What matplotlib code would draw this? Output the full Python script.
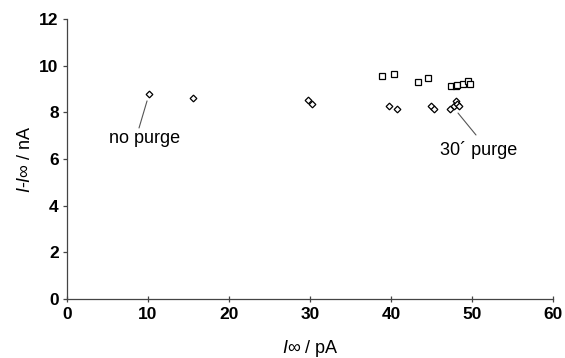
import matplotlib
matplotlib.use("Agg")
import matplotlib.pyplot as plt

plt.rcParams['font.family'] = ['Liberation Sans', 'DejaVu Sans']
plt.rcParams['mathtext.fontset'] = 'custom'
plt.rcParams['mathtext.rm'] = 'Liberation Sans'
plt.rcParams['mathtext.it'] = 'Liberation Sans:italic'

# Diamonds (purge series)
dia_x = [10.1, 15.5, 29.7, 30.2, 39.7, 40.8, 44.9, 45.3, 47.3, 47.8, 48.0, 48.1, 48.4]
dia_y = [8.80, 8.60, 8.52, 8.35, 8.29, 8.15, 8.27, 8.15, 8.14, 8.27, 8.48, 8.36, 8.27]
# Squares
sq_x = [38.9, 40.4, 43.3, 44.6, 47.4, 48.0, 48.2, 48.9, 49.5, 49.75]
sq_y = [9.57, 9.64, 9.31, 9.49, 9.13, 9.13, 9.17, 9.21, 9.36, 9.20]

xticks = [0, 10, 20, 30, 40, 50, 60]
yticks = [0, 2, 4, 6, 8, 10, 12]

fig = plt.figure(figsize=(5.65, 3.58), dpi=100)
ax = fig.add_axes([0.1186, 0.1648, 0.8602, 0.7821])

ax.plot(sq_x, sq_y, linestyle='none', marker='s', markersize=4.6,
        markerfacecolor='white', markeredgecolor='black', markeredgewidth=0.9)
ax.plot(dia_x, dia_y, linestyle='none', marker='D', markersize=3.4,
        markerfacecolor='white', markeredgecolor='black', markeredgewidth=0.9)

ax.set_xlim(0, 60)
ax.set_ylim(0, 12)
ax.set_xticks(xticks)
ax.set_yticks(yticks)
for s in ['top', 'right']:
    ax.spines[s].set_visible(False)
for s in ['left', 'bottom']:
    ax.spines[s].set_color('#444444')
    ax.spines[s].set_linewidth(0.9)
ax.tick_params(axis='x', direction='inout', length=5, width=0.9, color='#444444', pad=3)
ax.tick_params(axis='y', direction='out', length=3, width=0.9, color='#444444', pad=3)
for lab in ax.get_xticklabels() + ax.get_yticklabels():
    lab.set_fontweight('bold')
    lab.set_fontsize(12.5)

ax.set_xlabel(r'$I$∞ / pA', fontsize=13, labelpad=12)
ax.set_ylabel(r'$I$-$I$∞ / nA', fontsize=13, labelpad=4)

ax.text(9.6, 6.9, 'no purge', fontsize=13, ha='center', va='center')
ax.annotate('', xy=(9.88, 8.49), xytext=(8.89, 7.33),
            arrowprops=dict(arrowstyle='-', color='#555555', lw=0.8, shrinkA=0, shrinkB=0))
ax.text(50.8, 6.4, '30´ purge', fontsize=13, ha='center', va='center')
ax.annotate('', xy=(48.27, 7.97), xytext=(50.49, 7.03),
            arrowprops=dict(arrowstyle='-', color='#555555', lw=0.8, shrinkA=0, shrinkB=0))

fig.savefig('out.png', dpi=100)
